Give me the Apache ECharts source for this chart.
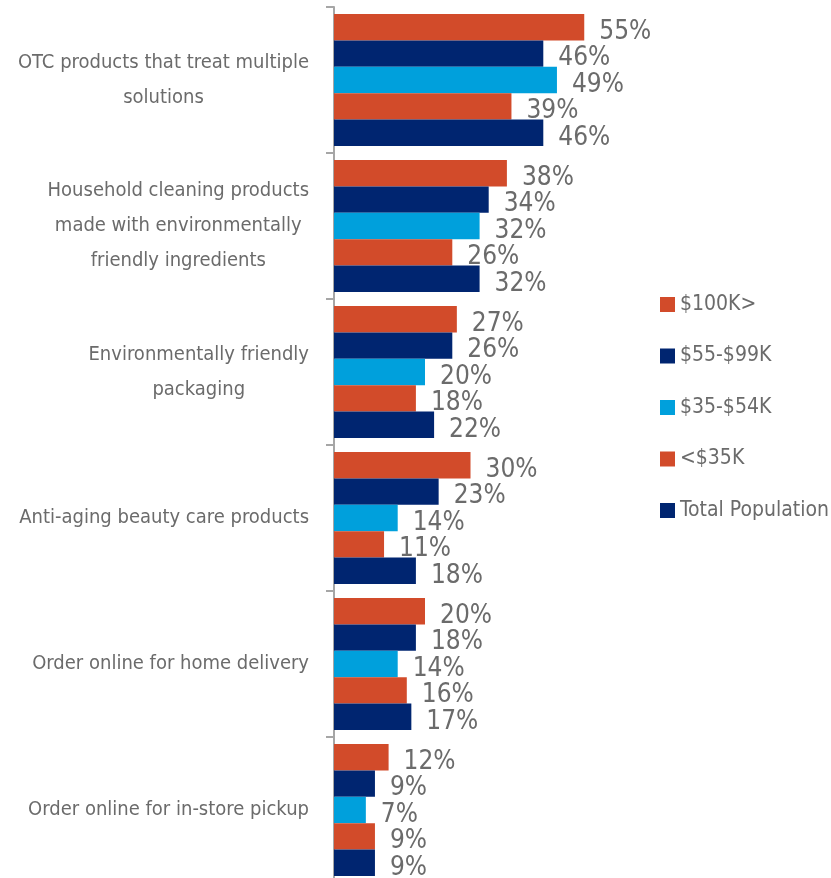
<!DOCTYPE html>
<html><head><meta charset="utf-8">
<script src="https://cdn.jsdelivr.net/npm/echarts@6/dist/echarts.min.js"></script>
<style>html,body{margin:0;padding:0;background:#fff}#c{width:831px;height:878px}</style>
</head><body><div id="c"></div>
<script>
var categories = [
  "OTC products that treat multiple\nsolutions",
  "Household cleaning products\nmade with environmentally\nfriendly ingredients",
  "Environmentally friendly\npackaging",
  "Anti-aging beauty care products",
  "Order online for home delivery",
  "Order online for in-store pickup"
];
var seriesNames = ["$100K>", "$55-$99K", "$35-$54K", "<$35K", "Total Population"];
var s100k = [55, 38, 27, 30, 20, 12];
var s55 = [46, 34, 26, 23, 18, 9];
var s35 = [49, 32, 20, 14, 14, 7];
var sLt35 = [39, 26, 18, 11, 16, 9];
var sTotal = [46, 32, 22, 18, 17, 9];
var colors = ["#D24B2A", "#002570", "#00A0DC", "#D24B2A", "#002570"];
var values = [s100k, s55, s35, sLt35, sTotal];

var FONT = "'DejaVu Sans Condensed', 'Liberation Sans Narrow', sans-serif";
var GRAY = "#6b6b6b";

var series = seriesNames.map(function (n, i) {
  return {
    name: n, type: 'bar', data: values[i],
    barGap: '0%', barCategoryGap: '9.6%',
    itemStyle: { color: colors[i] },
    label: {
      show: true, position: 'right', distance: 15, offset: [0, 5],
      formatter: '{c}%', fontFamily: FONT, fontSize: 26, color: GRAY
    }
  };
});

var chart = echarts.init(document.getElementById('c'));
chart.setOption({
  animation: false,
  grid: { left: 334, top: 7, width: 455, height: 876, containLabel: false, outerBoundsMode: 'none' },
  legend: {
    data: seriesNames, orient: 'vertical', left: 660, top: 294, padding: 0,
    itemWidth: 15, itemHeight: 15, itemGap: 30.5, icon: 'rect',
    textStyle: { fontFamily: FONT, fontSize: 21, color: GRAY }
  },
  xAxis: { type: 'value', min: 0, max: 100, show: false },
  yAxis: {
    type: 'category', data: categories, inverse: true,
    axisLine: { show: true, lineStyle: { color: '#a6a6a6', width: 2 } },
    axisTick: { show: true, length: 8, lineStyle: { color: '#a6a6a6', width: 2 } },
    axisLabel: {
      margin: 25, align: 'right',
      formatter: function (v) { return v.split('\n').map(function (l) { return '{a|' + l + '}'; }).join('\n'); },
      rich: { a: { align: 'center', fontFamily: FONT, fontSize: 20, color: GRAY, lineHeight: 35 } }
    }
  },
  series: series
});
</script></body></html>
